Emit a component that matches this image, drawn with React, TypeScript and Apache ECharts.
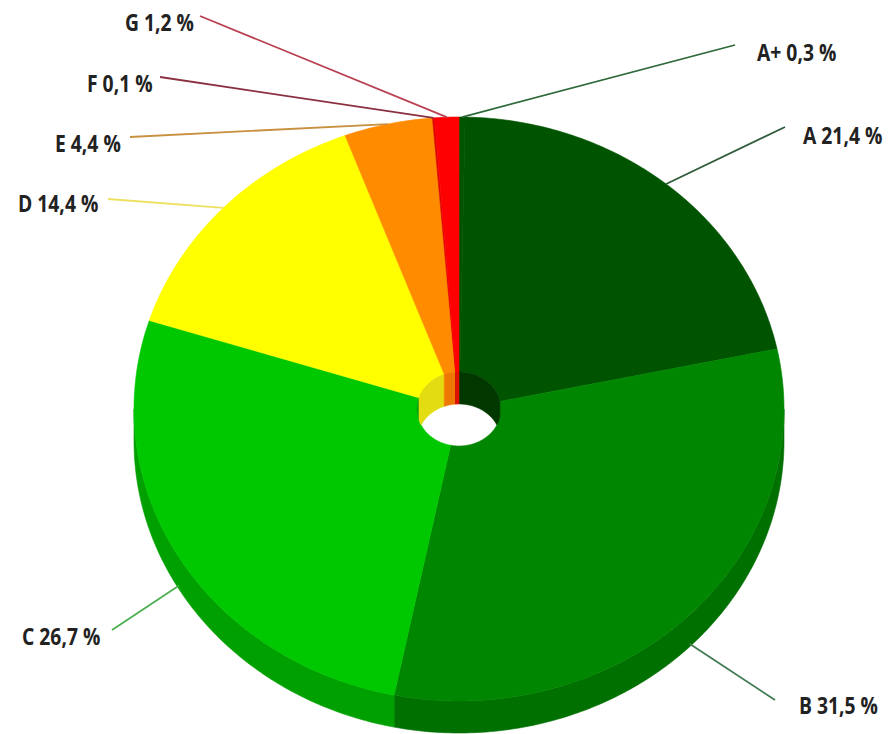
import React, { useEffect, useRef } from "react";
import * as echarts from "echarts";

const categories = ["A+", "A", "B", "C", "D", "E", "F", "G"];
const shares = [0.3, 21.4, 31.5, 26.7, 14.4, 4.4, 0.1, 1.2];
const topColors = ["#005400", "#005400", "#008600", "#00c800", "#ffff00", "#ff8c00", "#e00000", "#ff0000"];
const sideColors = ["#003000", "#003800", "#007000", "#00a000", "#e2dc10", "#ee7800", "#c00000", "#e01000"];
const lineColors = ["#2f6a3a", "#2f5a3a", "#3f7a50", "#4caf50", "#eee060", "#c89040", "#8a3040", "#b84050"];
const labelX = [757, 803, 799, 22, 18, 55, 87, 125];
const labelY = [52, 135, 705, 636, 203, 143, 83, 22];
const leaderX = [735, 785, 775, 112, 108, 130, 160, 200];
const leaderY = [45, 127, 700, 630, 199, 137, 77, 16];

const CX = 459, CY = 409, RX = 325, RY = 292, DEPTH = 32, HX = 42, HY = 37;
const total = shares.reduce((a, b) => a + b, 0);
const rad = (d: number) => (d * Math.PI) / 180;

function range(a: number, b: number) {
  const out: number[] = [];
  const n = Math.max(2, Math.ceil((b - a) / 0.75));
  for (let i = 0; i <= n; i++) out.push(a + ((b - a) * i) / n);
  return out;
}
const pt = (d: number, rx: number, ry: number, dy = 0) => [
  CX + rx * Math.sin(rad(d)),
  CY - ry * Math.cos(rad(d)) + dy,
];

function renderItem(params: any, api: any) {
  const i = params.dataIndex;
  const value = api.value(0);
  let before = 0;
  for (let k = 0; k < i; k++) before += shares[k];
  const a0 = (before / total) * 360;
  const a1 = ((before + value) / total) * 360;
  const mid = (a0 + a1) / 2;
  const children: any[] = [];
  const poly = (points: number[][], color: string, z2: number) =>
    children.push({ type: "polygon", z2, shape: { points }, style: { fill: color, stroke: color, lineWidth: 0.6 } });

  // outer wall
  const s0 = Math.max(a0, 90), s1 = Math.min(a1, 270);
  if (s1 > s0) {
    const arc = range(s0, s1);
    poly(
      [...arc.map((d) => pt(d, RX, RY)), ...arc.slice().reverse().map((d) => pt(d, RX, RY, DEPTH))],
      sideColors[i],
      1
    );
  }
  // top face
  const arc = range(a0, a1);
  poly(
    [...arc.map((d) => pt(d, RX, RY)), ...arc.slice().reverse().map((d) => pt(d, HX, HY))],
    topColors[i],
    2
  );
  // inner wall, seen through the hole
  const wallParts = [[a0, Math.min(a1, 90)], [Math.max(a0, 270), a1]];
  wallParts.forEach(([w0, w1]) => {
    if (w1 <= w0) return;
    const w = range(w0, w1);
    const lower = w
      .slice()
      .reverse()
      .map((d) => {
        const c = Math.cos(rad(d));
        return [CX + HX * Math.sin(rad(d)), Math.min(CY - HY * c + DEPTH, CY + HY * c)];
      });
    poly([...w.map((d) => pt(d, HX, HY)), ...lower], sideColors[i], 3);
  });

  // leader line and label
  const anchor = mid > 90 && mid < 270 ? pt(mid, RX, RY, DEPTH - 3) : pt(mid, RX, RY);
  children.push({
    type: "line",
    z2: 4,
    shape: { x1: anchor[0], y1: anchor[1], x2: leaderX[i], y2: leaderY[i] },
    style: { stroke: lineColors[i], lineWidth: 1.8 },
  });
  children.push({
    type: "text",
    z2: 5,
    x: labelX[i],
    y: labelY[i],
    scaleX: 0.84,
    style: {
      text: `${categories[i]} ${String(value).replace(".", ",")} %`,
      x: 0,
      y: 0,
      fill: "#222222",
      font: 'bold 23px "Open Sans", sans-serif',
      textAlign: "left",
      textVerticalAlign: "middle",
    },
  });
  return { type: "group", children };
}

export default function App() {
  const ref = useRef<HTMLDivElement>(null);
  useEffect(() => {
    const chart = echarts.init(ref.current!, undefined, { renderer: "svg" });
    chart.setOption({
      animation: false,
      backgroundColor: "#ffffff",
      series: [
        {
          type: "custom",
          coordinateSystem: "none",
          silent: true,
          renderItem,
          data: shares.map((v) => [v]),
        },
      ],
    });
    return () => chart.dispose();
  }, []);
  return <div ref={ref} style={{ position: "absolute", left: 0, top: 0, width: 892, height: 734 }} />;
}
